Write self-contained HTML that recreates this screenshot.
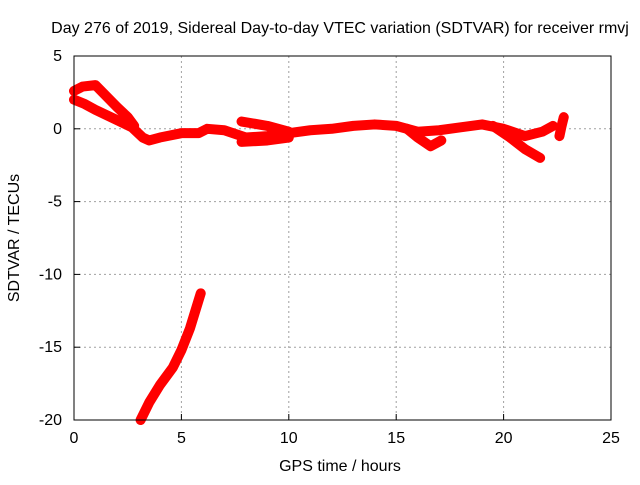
<!DOCTYPE html>
<html><head><meta charset="utf-8"><style>
body{margin:0;background:#fff;}
svg text{font-family:"Liberation Sans",sans-serif;font-size:16px;fill:#000;}
</style></head><body>
<svg id="chart" width="640" height="480">
<text x="340" y="33" text-anchor="middle">Day 276 of 2019, Sidereal Day-to-day VTEC variation (SDTVAR) for receiver rmvj</text>
<text x="340" y="471" text-anchor="middle">GPS time / hours</text>
<text transform="translate(19,238) rotate(-90)" text-anchor="middle">SDTVAR / TECUs</text>
<g id="grid"></g><g id="marks"></g>
<rect x="74" y="56" width="537" height="364" fill="none" stroke="#000" stroke-width="1"/>
<g id="ticks"></g>
</svg>
<script>
const xTicks=[0,5,10,15,20,25];
const yTicks=[5,0,-5,-10,-15,-20];
const traceA=[[0,2.6],[0.4,2.9],[1,3.0],[1.4,2.4],[2,1.5],[2.5,0.8],[2.8,0.2]];
const traceB=[[0,2.0],[0.5,1.7],[1,1.3],[2,0.6],[2.7,0.1],[3.2,-0.6],[3.5,-0.8],[4,-0.6],[5,-0.3],[5.8,-0.3],[6.2,0],[7,-0.1],[8,-0.6],[9,-0.5],[10,-0.3],[11,-0.1],[12,0],[13,0.2],[14,0.3],[15,0.2],[16,-0.2],[17,-0.1],[18,0.1],[19,0.3],[20,0],[21,-0.5],[21.8,-0.2],[22.3,0.2]];
const traceC=[[7.8,0.5],[9,0.2],[10,-0.2]];
const traceC2=[[7.8,-0.9],[9,-0.8],[10,-0.6]];
const traceD=[[15.5,0],[16,-0.6],[16.6,-1.2],[17.1,-0.8]];
const traceE=[[19.5,0.2],[20.3,-0.6],[21,-1.4],[21.7,-2.0]];
const traceF=[[3.1,-20],[3.5,-18.8],[4,-17.6],[4.6,-16.4],[5,-15.2],[5.4,-13.7],[5.9,-11.3]];
const traceG=[[22.6,-0.5],[22.7,0.2],[22.8,0.8]];
const traces=[traceA,traceB,traceC,traceC2,traceD,traceE,traceF,traceG];
const X=h=>74+h*537/25, Y=v=>56+(5-v)*364/25;
const NS="http://www.w3.org/2000/svg";
const grid=document.getElementById('grid'),ticks=document.getElementById('ticks'),marks=document.getElementById('marks');
function mk(tag,attrs,parent){const e=document.createElementNS(NS,tag);for(const k in attrs)e.setAttribute(k,attrs[k]);parent.appendChild(e);return e;}
xTicks.forEach(t=>{
 if(t>0&&t<25){const g=mk('line',{x1:X(t),x2:X(t),y1:56,y2:420,stroke:'#a0a0a0','stroke-dasharray':'2,3'},grid);
 
 }
 mk('line',{x1:X(t),x2:X(t),y1:420,y2:414,stroke:'#000'},ticks);
 const l=mk('text',{x:X(t),y:443,'text-anchor':'middle'},ticks);l.textContent=t;
 
 
});
yTicks.forEach(t=>{
 if(t<5&&t>-20){const g=mk('line',{x1:74,x2:611,y1:Y(t),y2:Y(t),stroke:'#a0a0a0','stroke-dasharray':'2,3'},grid);
 
 }
 mk('line',{x1:74,x2:80,y1:Y(t),y2:Y(t),stroke:'#000'},ticks);
 const l=mk('text',{x:62,y:Y(t)+5,'text-anchor':'end'},ticks);l.textContent=t;
 
 
});
traces.forEach(tr=>{
 const p=mk('polyline',{points:tr.map(d=>X(d[0])+','+Y(d[1])).join(' '),fill:'none',stroke:'#ff0000','stroke-width':10,'stroke-linejoin':'round','stroke-linecap':'round'},marks);
 
 
});
</script>
</body></html>
